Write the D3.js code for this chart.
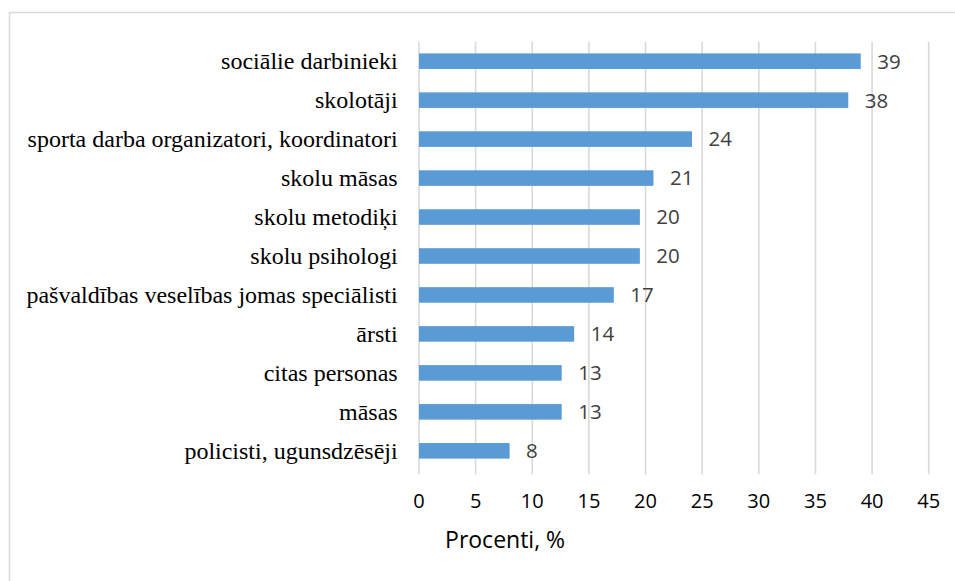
<!DOCTYPE html>
<html>
<head>
<meta charset="utf-8">
<script src="https://cdn.jsdelivr.net/npm/d3@7"></script>
<style>
  body { margin: 0; background: #fff; }
  svg { display: block; }
</style>
</head>
<body>
<script>
// kategorijas un vertibas (procenti)
var categories = ["sociālie darbinieki", "skolotāji", "sporta darba organizatori, koordinatori",
  "skolu māsas", "skolu metodiķi", "skolu psihologi", "pašvaldības veselības jomas speciālisti",
  "ārsti", "citas personas", "māsas", "policisti, ugunsdzēsēji"];
var values = [39.0, 37.9, 24.1, 20.7, 19.5, 19.5, 17.2, 13.7, 12.6, 12.6, 8.0];
var xTicks = [0, 5, 10, 15, 20, 25, 30, 35, 40, 45];
var axisTitle = "Procenti, %";

var width = 955, height = 581;
var margin = {top: 41.7, left: 419, right: 26.3, bottom: 110.7};

var svg = d3.select("body").append("svg")
  .attr("width", width)
  .attr("height", height);

// chart area border
svg.append("rect")
  .attr("x", 9.5).attr("y", 12.5)
  .attr("width", width + 20).attr("height", height + 20)
  .attr("fill", "none")
  .attr("stroke", "#d9d9d9")
  .attr("stroke-width", 1.5);

var xScale = d3.scaleLinear()
  .domain([0, 45])
  .range([margin.left, width - margin.right]);

var yScale = d3.scaleBand()
  .domain(categories)
  .range([margin.top, height - margin.bottom])
  .paddingInner(0.6)
  .paddingOuter(0.3);

var graph = svg.append("g");

// gridlines
graph.selectAll(".grid").data(xTicks).enter()
  .append("line")
    .attr("class", "grid")
    .attr("x1", function (d) { return xScale(d); })
    .attr("x2", function (d) { return xScale(d); })
    .attr("y1", margin.top)
    .attr("y2", height - margin.bottom + 4)
    .attr("stroke", "#d9d9d9")
    .attr("stroke-width", 1.6);

// bars
graph.selectAll(".bar").data(values).enter()
  .append("rect")
    .attr("class", "bar")
    .attr("x", xScale(0))
    .attr("y", function (d, i) { return yScale(categories[i]); })
    .attr("width", function (d) { return xScale(d) - xScale(0); })
    .attr("height", yScale.bandwidth())
    .attr("fill", "#5b9bd5");

// data labels
var fmt = d3.format(".0f");
graph.selectAll(".val").data(values).enter()
  .append("text")
    .attr("class", "val")
    .attr("x", function (d) { return xScale(d) + 16.5; })
    .attr("y", function (d, i) { return yScale(categories[i]) + yScale.bandwidth() / 2; })
    .attr("dy", "0.36em")
    .attr("font-family", "'Open Sans', sans-serif")
    .attr("font-size", "20.5px")
    .attr("fill", "#404040")
    .text(function (d) { return fmt(d); });

// category labels
graph.selectAll(".cat").data(categories).enter()
  .append("text")
    .attr("class", "cat")
    .attr("x", 397.7)
    .attr("y", function (d) { return yScale(d) + yScale.bandwidth() / 2; })
    .attr("dy", "0.34em")
    .attr("text-anchor", "end")
    .attr("font-family", "'Liberation Serif', 'Times New Roman', serif")
    .attr("font-size", "24px")
    .attr("fill", "#000")
    .text(function (d) { return d; });

// x tick labels
graph.selectAll(".tick").data(xTicks).enter()
  .append("text")
    .attr("class", "tick")
    .attr("x", function (d) { return xScale(d); })
    .attr("y", 508.3)
    .attr("text-anchor", "middle")
    .attr("font-family", "'Open Sans', sans-serif")
    .attr("font-size", "20px")
    .attr("fill", "#000")
    .text(function (d) { return d; });

// axis title
svg.append("text")
  .attr("x", xScale(7.6))
  .attr("y", 548)
  .attr("text-anchor", "middle")
  .attr("font-family", "'Open Sans', sans-serif")
  .attr("font-size", "23px")
  .attr("fill", "#000")
  .text(axisTitle);
</script>
</body>
</html>
